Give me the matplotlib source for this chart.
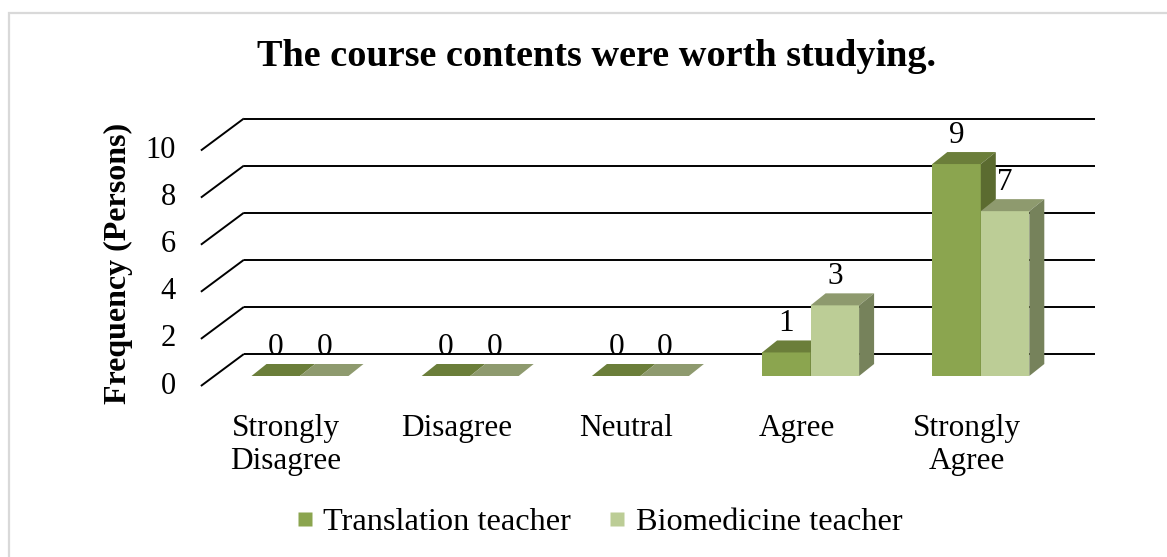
import matplotlib
matplotlib.use("Agg")
import matplotlib.pyplot as plt
from matplotlib.patches import Polygon, Rectangle
from matplotlib.lines import Line2D

# ---------------- data ----------------
categories = ["Strongly\nDisagree", "Disagree", "Neutral", "Agree", "Strongly\nAgree"]
translation = [0, 0, 0, 1, 9]
biomedicine = [0, 0, 0, 3, 7]
series_names = ["Translation teacher", "Biomedicine teacher"]
y_ticks = [0, 2, 4, 6, 8, 10]
title = "The course contents were worth studying."
y_label = "Frequency (Persons)"

# ---------------- style ----------------
W, H, DPI = 1167, 557, 100
serif = ["Liberation Serif", "DejaVu Serif"]
front_cols = ["#8BA54F", "#BCCD96"]
top_cols = ["#6B7E3A", "#8E9A6E"]
side_cols = ["#5B6B30", "#76825B"]

# pixel scales of the pseudo-3D projection
px_cat = 170.2      # pixels per category
px_val = 23.55      # pixels per value unit
cat0_px = 300.0     # x pixel of category 0 centre (bar front plane)
zero_row = 376.0    # y pixel row of value 0 (bar front plane)

back_dx, back_dy = 29 / px_cat, 22 / px_val        # back wall offset
floor_dx, floor_dy = -14 / px_cat, -10 / px_val    # floor front offset
bar_dx, bar_dy = 15 / px_cat, 12 / px_val          # bar depth
bar_w = 48.5 / px_cat

fig = plt.figure(figsize=(W / DPI, H / DPI), dpi=DPI)
ax = fig.add_axes([0, 0, 1, 1])
ax.set_xlim(-cat0_px / px_cat, (W - cat0_px) / px_cat)
ax.set_ylim(-(H - zero_row) / px_val, zero_row / px_val)
ax.axis("off")

# chart border
fig.patches.append(Rectangle((9 / W, -0.05), 1.2, 1 - 13 / H + 0.05,
                             transform=fig.transFigure, fill=False,
                             edgecolor="#D9D9D9", lw=1.6, zorder=0))

n = len(categories)
x_left = -0.5
x_right = n - 0.5

# gridlines: back wall + left diagonal
for v in y_ticks:
    ax.plot([x_left + back_dx, x_right + back_dx], [v + back_dy, v + back_dy],
            color="black", lw=1.4, zorder=1, solid_capstyle="butt")
    ax.plot([x_left + floor_dx, x_left + back_dx], [v + floor_dy, v + back_dy],
            color="black", lw=1.4, zorder=1, solid_capstyle="butt")
    ax.text(x_left + floor_dx - 25 / px_cat, v + floor_dy, str(v),
            ha="right", va="center", fontsize=22, family=serif, zorder=5)


def draw_bar(x0, h, k, z):
    x1 = x0 + bar_w
    ax.add_patch(Polygon([(x0, 0), (x1, 0), (x1, h), (x0, h)], closed=True,
                         facecolor=front_cols[k], edgecolor="none", zorder=z))
    ax.add_patch(Polygon([(x0, h), (x1, h), (x1 + bar_dx, h + bar_dy),
                          (x0 + bar_dx, h + bar_dy)], closed=True,
                         facecolor=top_cols[k], edgecolor="none", zorder=z))
    ax.add_patch(Polygon([(x1, 0), (x1 + bar_dx, bar_dy), (x1 + bar_dx, h + bar_dy),
                          (x1, h)], closed=True,
                         facecolor=side_cols[k], edgecolor="none", zorder=z))


for i in range(n):
    for k, vals in enumerate([translation, biomedicine]):
        x0 = i - bar_w + k * bar_w
        draw_bar(x0, vals[i], k, 2 + k)
        ax.text(x0 + bar_w / 2, vals[i] + 1.22, str(vals[i]), ha="center",
                va="center", fontsize=22.5, family=serif, zorder=6)
    ax.text(i + floor_dx, floor_dy - 1.18, categories[i], ha="center", va="top",
            fontsize=22.5, family=serif, linespacing=1.2, zorder=5)

# title and axis label
fig.text(597 / W, 1 - 56 / H, title, ha="center", va="center",
         fontsize=27.5, fontweight="bold", family=serif)
fig.text(118 / W, 1 - 263 / H, y_label, ha="center", va="center", rotation=90,
         fontsize=23, fontweight="bold", family=serif)

# legend
handles = [Line2D([], [], marker="s", linestyle="none", markersize=10.5,
                  markerfacecolor=c, markeredgecolor="none") for c in front_cols]
fig.legend(handles, series_names, loc="center", bbox_to_anchor=(600 / W, 1 - 522 / H),
           ncol=2, frameon=False, prop={"family": serif, "size": 23.3},
           handlelength=0.45, handletextpad=0.35, columnspacing=1.2,
           borderpad=0, borderaxespad=0)

fig.savefig("out.png", dpi=DPI)
